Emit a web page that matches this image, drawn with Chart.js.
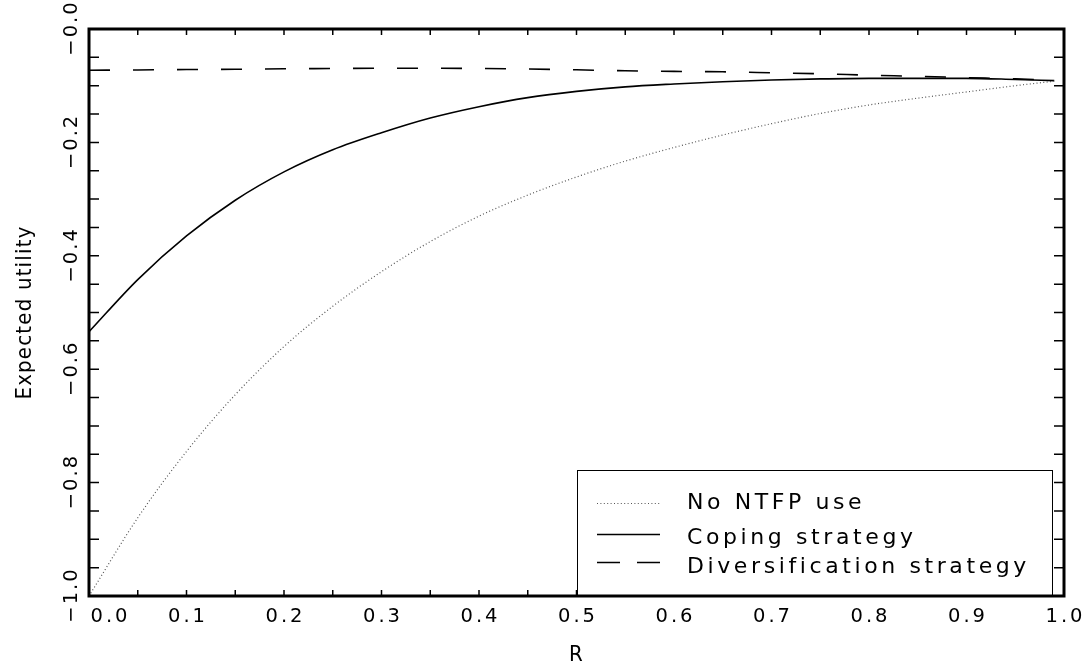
<!DOCTYPE html>
<html>
<head>
<meta charset="utf-8">
<script src="https://cdn.jsdelivr.net/npm/chart.js@4.4.1/dist/chart.umd.min.js"></script>
<style>
  html, body { margin: 0; padding: 0; background: #ffffff; }
  #wrap { width: 1088px; height: 671px; }
</style>
</head>
<body>
<div id="wrap"><canvas id="c" width="1088" height="671"></canvas></div>
<script>
// ---- data ----
const rValues = [0.00, 0.05, 0.10, 0.15, 0.20, 0.25, 0.30, 0.35, 0.40, 0.45, 0.50,
                 0.55, 0.60, 0.65, 0.70, 0.75, 0.80, 0.85, 0.90, 0.95, 0.99];
const noNtfpUse = [-1.000, -0.862, -0.745, -0.645, -0.560, -0.489, -0.428, -0.375, -0.330, -0.293, -0.261,
                   -0.233, -0.209, -0.187, -0.167, -0.149, -0.134, -0.122, -0.111, -0.100, -0.092];
const copingStrategy = [-0.534, -0.442, -0.365, -0.302, -0.252, -0.213, -0.183, -0.157, -0.137, -0.121, -0.110,
                        -0.102, -0.097, -0.093, -0.090, -0.088, -0.087, -0.087, -0.087, -0.089, -0.091];
const diversificationStrategy = [-0.0727, -0.0722, -0.0715, -0.0710, -0.0702, -0.0696, -0.0692, -0.0692, -0.0696, -0.0705, -0.0720,
                                 -0.0737, -0.0748, -0.0755, -0.0772, -0.0790, -0.0815, -0.0835, -0.0858, -0.0880, -0.0905];
const seriesLabels = ['No NTFP use', 'Coping strategy', 'Diversification strategy'];
const xTickLabels = ['0.0', '0.1', '0.2', '0.3', '0.4', '0.5', '0.6', '0.7', '0.8', '0.9', '1.0'];
const yTickLabels = ['\u22121.0', '\u22120.8', '\u22120.6', '\u22120.4', '\u22120.2', '\u22120.0'];
const xTitle = 'R';
const yTitle = 'Expected utility';

const FONT = "'DejaVu Sans', 'Liberation Sans', sans-serif";

function pts(ys) { return rValues.map((r, i) => ({ x: r, y: ys[i] })); }

const framePlugin = {
  id: 'frameAndLegend',
  beforeDraw(chart) {
    const ctx = chart.ctx;
    ctx.save();
    ctx.fillStyle = '#ffffff';
    ctx.fillRect(0, 0, chart.width, chart.height);
    ctx.restore();
  },
  afterDraw(chart) {
    const ctx = chart.ctx;
    const a = chart.chartArea;
    const xs = chart.scales.x, ys = chart.scales.y;
    ctx.save();
    ctx.strokeStyle = '#000';
    ctx.lineWidth = 1.5;
    ctx.beginPath();
    xs.ticks.forEach(t => {
      const px = xs.getPixelForValue(t.value);
      ctx.moveTo(px, a.bottom); ctx.lineTo(px, a.bottom - 6);
      ctx.moveTo(px, a.top); ctx.lineTo(px, a.top + 6);
    });
    ys.ticks.forEach(t => {
      const py = ys.getPixelForValue(t.value);
      ctx.moveTo(a.left, py); ctx.lineTo(a.left + 10, py);
      ctx.moveTo(a.right, py); ctx.lineTo(a.right - 10, py);
    });
    ctx.stroke();

    // tick labels
    ctx.fillStyle = '#000';
    ctx.font = '19.5px ' + FONT;
    ctx.letterSpacing = '3px';
    ctx.textAlign = 'center';
    ctx.textBaseline = 'alphabetic';
    xs.ticks.forEach(t => {
      const k = Math.round(t.value * 100);
      if (k % 10 !== 0) return;
      const lab = xTickLabels[k / 10];
      let px = xs.getPixelForValue(t.value);
      if (k === 0) px += 20;
      ctx.fillText(lab, px + 1.5, 622);
    });
    ctx.letterSpacing = '2px';
    ys.ticks.forEach(t => {
      const k = Math.round(-t.value * 100);
      if (k % 20 !== 0) return;
      const lab = yTickLabels[5 - k / 20];
      const py = ys.getPixelForValue(t.value);
      ctx.save();
      ctx.translate(77, py);
      ctx.rotate(-Math.PI / 2);
      ctx.fillText(lab, 1, 0);
      ctx.restore();
    });

    // legend box
    const bl = a.right - 487, br = a.right - 12, bt = a.bottom - 126, bb = a.bottom;
    ctx.fillStyle = '#fff';
    ctx.fillRect(bl, bt, br - bl, bb - bt);
    ctx.lineWidth = 1;
    ctx.strokeStyle = '#000';
    ctx.strokeRect(bl + 0.5, bt + 0.5, br - bl, bb - bt);
    const lineY = [bt + 33, bt + 64, bt + 92];
    const textY = [bt + 39, bt + 74, bt + 103];
    chart.data.datasets.forEach((ds, i) => {
      ctx.save();
      ctx.strokeStyle = ds.borderColor;
      ctx.lineWidth = ds.borderWidth;
      ctx.setLineDash(ds.legendDash || []);
      ctx.beginPath();
      ctx.moveTo(bl + 20, lineY[i] + 0.5);
      ctx.lineTo(bl + 83, lineY[i] + 0.5);
      ctx.stroke();
      ctx.restore();
      ctx.fillStyle = '#000';
      ctx.font = '22px ' + FONT;
      ctx.letterSpacing = '3.6px';
      ctx.textAlign = 'left';
      ctx.fillText(ds.label, bl + 110, textY[i]);
    });

    // frame
    ctx.letterSpacing = '0px';
    ctx.lineWidth = 3;
    ctx.strokeStyle = '#000';
    ctx.strokeRect(a.left, a.top, a.right - a.left, a.bottom - a.top);

    // axis titles
    ctx.fillStyle = '#000';
    ctx.font = "22px 'DejaVu Sans Condensed', 'DejaVu Sans', sans-serif";
    ctx.letterSpacing = '1.2px';
    ctx.textAlign = 'center';
    ctx.textBaseline = 'middle';
    ctx.fillText(xTitle, (a.left + a.right) / 2, 655);
    ctx.save();
    ctx.translate(25, (a.top + a.bottom) / 2);
    ctx.rotate(-Math.PI / 2);
    ctx.fillText(yTitle, 0, 0);
    ctx.restore();
    ctx.restore();
  }
};

new Chart(document.getElementById('c'), {
  type: 'line',
  data: {
    datasets: [
      { label: seriesLabels[0], data: pts(noNtfpUse), borderColor: '#555555', borderWidth: 1.2,
        borderDash: [1, 2.4], legendDash: [1, 2.4], pointRadius: 0, cubicInterpolationMode: 'monotone', fill: false },
      { label: seriesLabels[1], data: pts(copingStrategy), borderColor: '#000000', borderWidth: 1.6,
        borderDash: [], legendDash: [], pointRadius: 0, cubicInterpolationMode: 'monotone', fill: false },
      { label: seriesLabels[2], data: pts(diversificationStrategy), borderColor: '#000000', borderWidth: 1.6,
        borderDash: [21, 23], legendDash: [23, 17], pointRadius: 0, cubicInterpolationMode: 'monotone', fill: false }
    ]
  },
  options: {
    responsive: false,
    animation: false,
    devicePixelRatio: 1,
    layout: { padding: { top: 29, right: 24, bottom: 0, left: 0 } },
    plugins: { legend: { display: false }, tooltip: { enabled: false } },
    scales: {
      x: {
        type: 'linear', min: 0, max: 1,
        ticks: { display: false, stepSize: 0.05 },
        grid: { display: false }, border: { display: false },
        afterFit(scale) { scale.height = 75; }
      },
      y: {
        type: 'linear', min: -1, max: 0,
        ticks: { display: false, stepSize: 0.05 },
        grid: { display: false }, border: { display: false },
        afterFit(scale) { scale.width = 89; }
      }
    }
  },
  plugins: [framePlugin]
});
</script>
</body>
</html>
